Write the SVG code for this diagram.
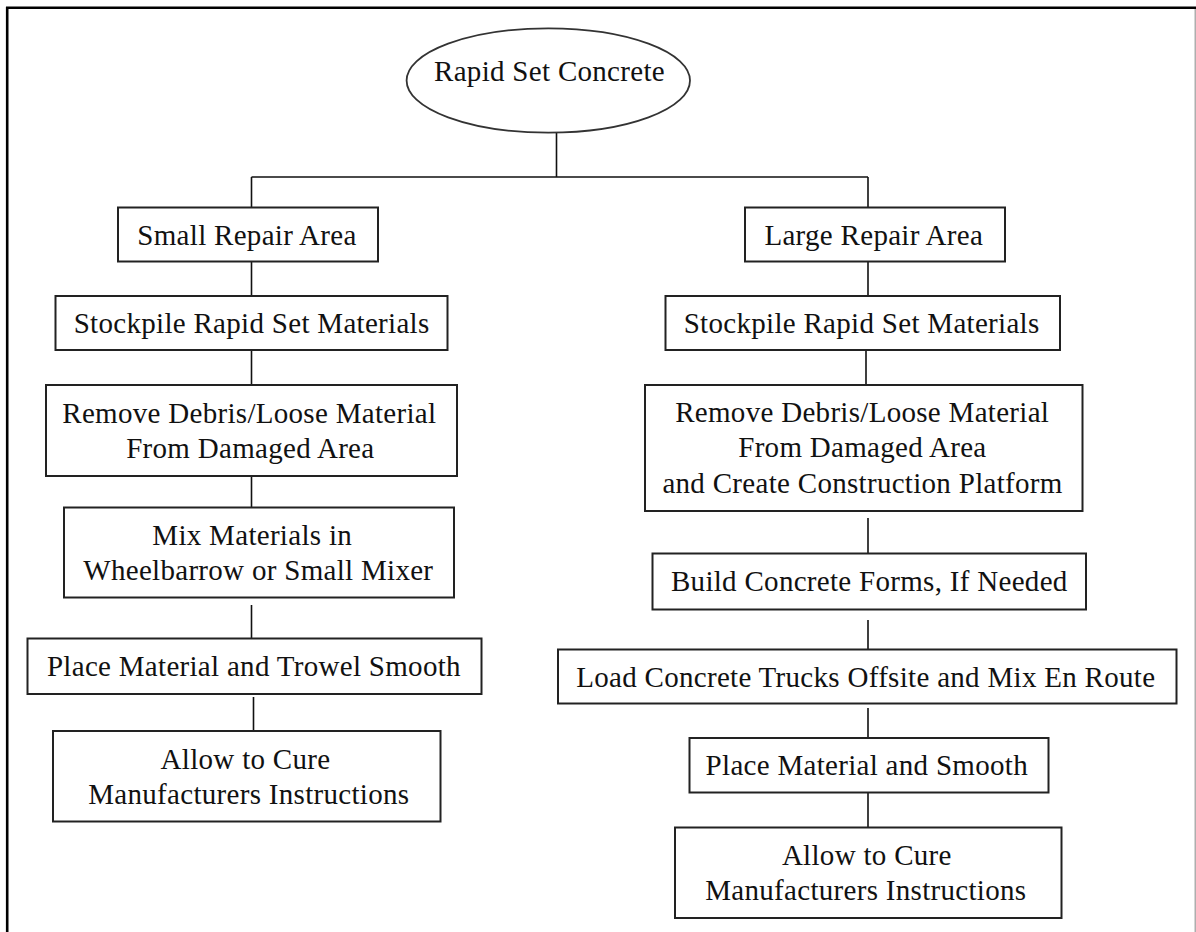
<svg xmlns="http://www.w3.org/2000/svg" width="1196" height="932" viewBox="0 0 1196 932">
  <style>
    .box { fill: #ffffff; stroke: #222222; stroke-width: 2; }
    .oval { fill: #ffffff; stroke: #333333; stroke-width: 1.8; }
    .lbl { font-family: "Liberation Serif", "Times New Roman", serif; font-size: 29px; letter-spacing: 0.3px; fill: #111111; text-anchor: middle; }
    .wire { fill: none; stroke: #111111; stroke-width: 1.6; }
  </style>

  <!-- page background and frame -->
  <rect x="0" y="0" width="1196" height="932" fill="#ffffff"/>
  <g id="frame">
    <line x1="6" y1="7.8" x2="1196" y2="7.8" stroke="#000000" stroke-width="2.4"/>
    <line x1="7.2" y1="7" x2="7.2" y2="932" stroke="#000000" stroke-width="2.6"/>
    <line x1="1195.2" y1="9" x2="1195.2" y2="932" stroke="#9a9a9a" stroke-width="1.2"/>
  </g>

  <!-- connectors -->
  <g id="connectors">
    <path class="wire" d="M556.5 132.7 V177 M251.5 177 H868 M251.5 177 V207.5 M868 177 V207.5"/>
    <!-- small repair branch -->
    <path class="wire" d="M251.5 261.5 V296 M251.5 350 V385 M251.5 476 V507.5 M251.5 605 V638.5 M253.5 697 V731"/>
    <!-- large repair branch -->
    <path class="wire" d="M868 261.5 V296 M866 350 V385 M868 518 V553.5 M868 620 V649.5 M868 708 V738 M868 792.5 V827.5"/>
  </g>

  <g id="root">
    <ellipse class="oval" cx="548.3" cy="80.5" rx="141.7" ry="52.2"/>
    <text class="lbl" x="549.5" y="81">Rapid Set Concrete</text>
  </g>

  <!-- small repair area steps -->
  <g id="small-repair">
    <rect class="box" x="118" y="207.5" width="260" height="54"/>
    <text class="lbl" x="247" y="245">Small Repair Area</text>
  </g>
  <g id="small-stockpile">
    <rect class="box" x="55.5" y="296" width="392" height="54"/>
    <text class="lbl" x="251.6" y="333">Stockpile Rapid Set Materials</text>
  </g>
  <g id="small-remove">
    <rect class="box" x="46" y="385" width="411" height="91"/>
    <text class="lbl" x="249.3" y="423">Remove Debris/Loose Material</text>
    <text class="lbl" x="250.3" y="457.5">From Damaged Area</text>
  </g>
  <g id="small-mix">
    <rect class="box" x="64" y="507.5" width="390" height="90"/>
    <text class="lbl" x="252.2" y="545">Mix Materials in</text>
    <text class="lbl" x="258.3" y="579.5">Wheelbarrow or Small Mixer</text>
  </g>
  <g id="small-place">
    <rect class="box" x="27.5" y="638.5" width="454" height="55.5"/>
    <text class="lbl" x="253.9" y="676">Place Material and Trowel Smooth</text>
  </g>
  <g id="small-cure">
    <rect class="box" x="53" y="731" width="387.5" height="90.5"/>
    <text class="lbl" x="245.5" y="768.5">Allow to Cure</text>
    <text class="lbl" x="248.8" y="803.5">Manufacturers Instructions</text>
  </g>

  <!-- large repair area steps -->
  <g id="large-repair">
    <rect class="box" x="745" y="207.5" width="260" height="54"/>
    <text class="lbl" x="873.8" y="245">Large Repair Area</text>
  </g>
  <g id="large-stockpile">
    <rect class="box" x="665.5" y="296" width="394.5" height="54"/>
    <text class="lbl" x="861.6" y="333">Stockpile Rapid Set Materials</text>
  </g>
  <g id="large-remove">
    <rect class="box" x="645" y="385" width="437.5" height="126"/>
    <text class="lbl" x="862.2" y="422">Remove Debris/Loose Material</text>
    <text class="lbl" x="862.4" y="457">From Damaged Area</text>
    <text class="lbl" x="862.5" y="493">and Create Construction Platform</text>
  </g>
  <g id="large-forms">
    <rect class="box" x="652.5" y="553.5" width="433.5" height="56"/>
    <text class="lbl" x="869.3" y="591">Build Concrete Forms, If Needed</text>
  </g>
  <g id="large-trucks">
    <rect class="box" x="558" y="649.5" width="618.5" height="54"/>
    <text class="lbl" x="865.8" y="687">Load Concrete Trucks Offsite and Mix En Route</text>
  </g>
  <g id="large-place">
    <rect class="box" x="689.5" y="738" width="359" height="54.5"/>
    <text class="lbl" x="866.8" y="775">Place Material and Smooth</text>
  </g>
  <g id="large-cure">
    <rect class="box" x="675" y="827.5" width="386.5" height="90.5"/>
    <text class="lbl" x="866.8" y="865">Allow to Cure</text>
    <text class="lbl" x="865.8" y="899.5">Manufacturers Instructions</text>
  </g>
</svg>
